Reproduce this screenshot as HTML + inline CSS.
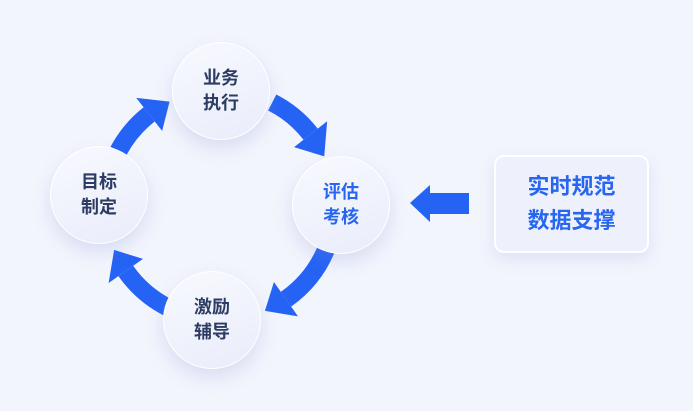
<!DOCTYPE html>
<html><head><meta charset="utf-8"><style>
body{margin:0;width:693px;height:411px;background:#f3f5fd;overflow:hidden;font-family:"Liberation Sans","Noto Sans CJK SC",sans-serif}
.c{position:absolute;width:98px;height:98px;border-radius:50%;background:linear-gradient(160deg,#f8f9ff,#e9edfa);box-shadow:0 8px 18px rgba(120,135,200,.22);border:1px solid #fff;display:flex;align-items:center;justify-content:center;text-align:center;font-weight:bold;font-size:18px;line-height:25px;color:#2d3c63;box-sizing:border-box}
.box{position:absolute;left:494px;top:155px;width:155px;height:98px;border-radius:10px;background:#eef1fc;border:2px solid #fff;box-sizing:border-box;box-shadow:0 6px 16px rgba(120,135,200,.18);display:flex;align-items:center;justify-content:center;text-align:center;color:#2866f0;font-weight:bold;font-size:22px;line-height:34px}
</style></head><body>
<svg id="s" width="693" height="411" style="position:absolute;left:0;top:0"></svg>
<div class="c" style="left:172px;top:42px">业务<br>执行</div>
<div class="c" style="left:50px;top:146px">目标<br>制定</div>
<div class="c" style="left:292px;top:156px;color:#2866f0">评估<br>考核</div>
<div class="c" style="left:163px;top:271px">激励<br>辅导</div>
<div class="box">实时规范<br>数据支撑</div>
<script>
var s=document.getElementById('s'),cx=220,cy=205,R=115,h='';
function p(a,r){a=a*Math.PI/180;return [cx+r*Math.cos(a),cy+r*Math.sin(a)];}
[[-63,-38,-25],[22,55,67],[117,145,157],[208,232,244]].forEach(function(t){
var a=p(t[0],R),b=p(t[1],R);
h+='<path d="M'+a+' A'+R+' '+R+' 0 0 1 '+b+'" fill="none" stroke="#2563f5" stroke-width="18"/>';
var c1=p(t[1],R-21),c2=p(t[1],R+21),tp=p(t[2],R);
h+='<polygon points="'+c1+' '+c2+' '+tp+'" fill="#2563f5"/>';});
h+='<polygon points="410,203 430,185 430,193 469,193 469,214 430,214 430,222" fill="#2563f5"/>';
s.innerHTML=h;
</script>
</body></html>
